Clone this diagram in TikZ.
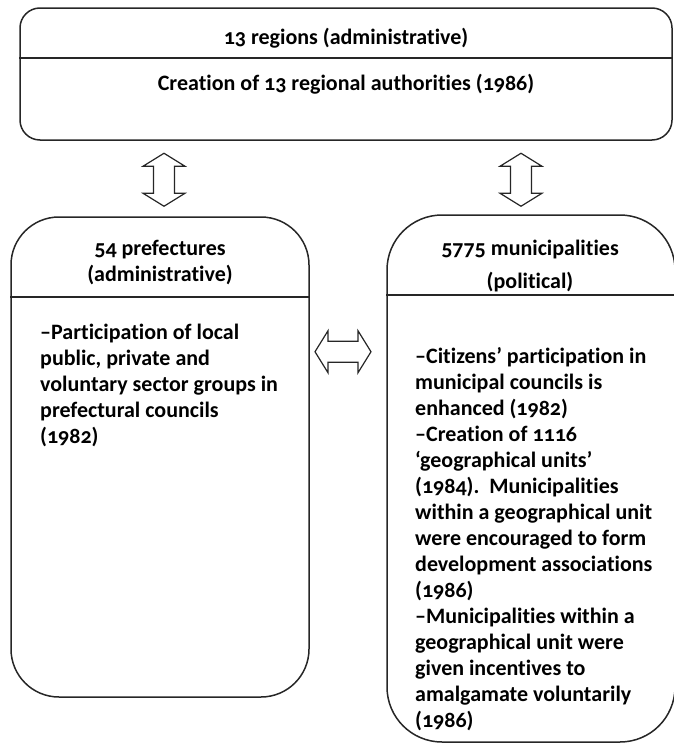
\documentclass[tikz,border=0pt]{standalone}
\usepackage{fontspec}
\setmainfont{Carlito}[Numbers=OldStyle,Ligatures=NoCommon]
\usetikzlibrary{calc}
\begin{document}
\begin{tikzpicture}[x=1pt,y=-1pt,
  box/.style={draw=black!85,line width=1.5pt,rectangle,inner sep=0pt},
  lbl/.style={font=\bfseries\fontsize{22}{26}\selectfont,align=center,inner sep=0pt},
  body/.style={font=\bfseries\fontsize{22}{26}\selectfont,align=left,inner sep=0pt,anchor=north west},
  divider/.style={draw=black!85,line width=1.5pt},
  dbl/.style={draw=black!85,line width=1.2pt,fill=white},
  vdarrow/.pic={\path[dbl] (0,-26.5) -- (21,-13.5) -- (10.5,-13.5) -- (10.5,13.5) -- (21,13.5) -- (0,26.5) -- (-21,13.5) -- (-10.5,13.5) -- (-10.5,-13.5) -- (-21,-13.5) -- cycle;},
  hdarrow/.pic={\path[dbl] (-28,0) -- (-15,-21) -- (-15,-10.5) -- (15,-10.5) -- (15,-21) -- (28,0) -- (15,21) -- (15,10.5) -- (-15,10.5) -- (-15,21) -- cycle;}
]
\useasboundingbox (0,0) rectangle (673,744);
% boxes
\node[box,rounded corners=20pt,minimum width=652pt,minimum height=132pt] (top) at (346,74) {};
\node[box,rounded corners=48pt,minimum width=298pt,minimum height=480pt] (left) at (160,457) {};
\node[box,rounded corners=55pt,minimum width=288pt,minimum height=527pt] (right) at (531,478.5) {};
% dividers
\draw[divider] (top.west |- 0,58) -- (top.east |- 0,58);
\draw[divider] (left.west |- 0,297) -- (left.east |- 0,297);
\draw[divider] (right.west |- 0,295) -- (right.east |- 0,295);
% titles
\node[lbl] (toptitle) at (346,38) {13 regions (administrative)};
\node[lbl] (topbody) at (346,84) {Creation of 13 regional authorities (1986)};
\node[lbl] (lefttitle) at (160,263) {54 prefectures\\(administrative)};
\node[lbl] (righttitle) at (530,266) {5775 municipalities\\[7pt](political)};
% bodies
\node[body] (leftbody) at (40,324) {--Participation of local\\public, private and\\voluntary sector groups in\\prefectural councils\\(1982)};
\node[body] (rightbody) at (415,347) {--Citizens’ participation in\\municipal councils is\\enhanced (1982)\\--Creation of 1116\\‘geographical units’\\(1984).\ \ Municipalities\\within a geographical unit\\were encouraged to form\\development associations\\(1986)\\--Municipalities within a\\geographical unit were\\given incentives to\\amalgamate voluntarily\\(1986)};
% arrows
\coordinate (a1) at ($(top.south -| 164,0)+(0,39)$);
\coordinate (a2) at ($(top.south -| 521,0)+(0,39)$);
\coordinate (a3) at ($(left.east)!0.5!(right.west)+(-5,-116)$);
\pic at (a1) {vdarrow};
\pic at (a2) {vdarrow};
\pic at (a3) {hdarrow};
\end{tikzpicture}
\end{document}
